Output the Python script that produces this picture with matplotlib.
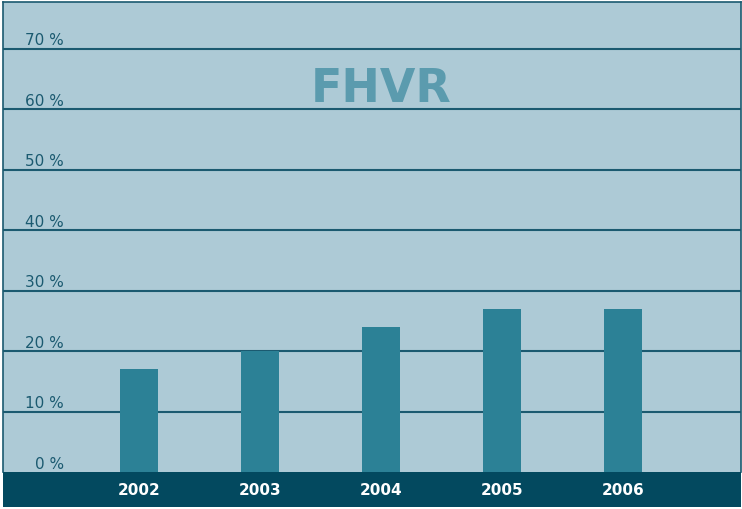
import matplotlib.pyplot as plt
import matplotlib.transforms as mtransforms

# Données
annees = ['2002', '2003', '2004', '2005', '2006']
valeurs = [17, 20, 24, 27, 27]
graduations = [0, 10, 20, 30, 40, 50, 60, 70]

W, H = 742, 510
fig = plt.figure(figsize=(W / 100, H / 100), dpi=100)
fig.patch.set_facecolor('white')

# zone principale (pixels : gauche 3, droite 741, haut 3, bas 473)
ax = fig.add_axes([3 / W, (H - 473) / H, 738 / W, 470 / H])
ax.set_facecolor('#adcad6')
for s in ax.spines.values():
    s.set_color('#1b5a70')
    s.set_linewidth(1.2)
ax.spines['bottom'].set_visible(False)

x = range(len(annees))
ax.bar(x, valeurs, width=0.31, color='#2c8196', zorder=3)
for g in graduations[1:]:
    ax.axhline(g, color='#1b5a70', linewidth=1.5, zorder=2)

ax.set_xlim(-1.124, 4.975)
ax.set_ylim(0, 77.7)
ax.set_xticks([])
ax.set_yticks([])

trans = mtransforms.offset_copy(
    mtransforms.blended_transform_factory(ax.transAxes, ax.transData),
    fig=fig, x=0, y=3, units='points')
for g in graduations:
    ax.text(61 / 738, g, f'{g} %', transform=trans, ha='right', va='baseline',
            fontsize=11, color='#1b5a70')

ax.text(0.513, 0.789, 'FHVR', transform=ax.transAxes, ha='center', va='baseline',
        fontsize=33, fontweight='bold', color='#5b9bae')

# bandeau du bas avec les années
axb = fig.add_axes([3 / W, (H - 508) / H, 738 / W, 35 / H])
axb.set_facecolor('#03495f')
axb.set_xlim(ax.get_xlim())
axb.set_ylim(0, 1)
axb.set_xticks([])
axb.set_yticks([])
for s in axb.spines.values():
    s.set_visible(False)
for i, a in enumerate(annees):
    axb.text(i, 0.5, a, ha='center', va='center', fontsize=11,
             fontweight='bold', color='white')

fig.savefig('out.png', dpi=100)
